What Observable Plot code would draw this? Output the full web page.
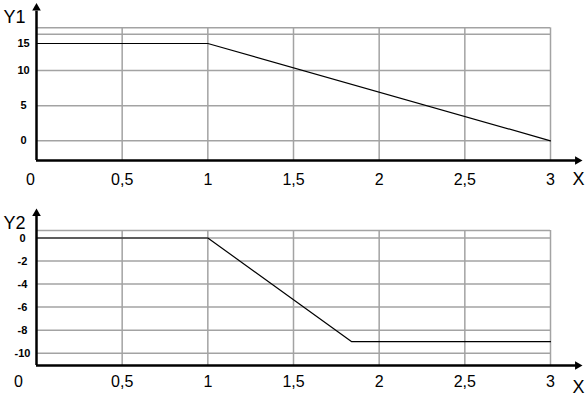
<!DOCTYPE html>
<html><head><meta charset="utf-8">
<script src="https://cdn.jsdelivr.net/npm/d3@7"></script>
<script src="https://cdn.jsdelivr.net/npm/@observablehq/plot@0.6"></script>
<style>body{margin:0;background:#fff} svg{display:block}</style>
</head><body><div id="chart"></div>
<script>
// ---- data ----
const xTicks = [0, 0.5, 1, 1.5, 2, 2.5, 3];
const xTickLabels = ["0", "0,5", "1", "1,5", "2", "2,5", "3"];
const y1Ticks = [0, 5, 10, 15];
const y2Ticks = [0, -2, -4, -6, -8, -10];
const y1Grid = [0, 5, 10, 16.7, 17.9];
const y2Grid = [0.65, 0, -2, -4, -6, -8, -10];
const series1X = [0, 1, 3];
const series1Y = [15, 15, 0];
const series2X = [0, 1, 1.84, 3];
const series2Y = [0, 0, -9, -9];

const data1 = series1X.map((x, i) => ({x, y: series1Y[i]}));
const data2 = series2X.map((x, i) => ({x, y: series2Y[i]}));

const GRID = "#a3a3a3";
const FONT = "'Liberation Sans', Arial, sans-serif";

// the top axis is drawn compressed above 10 (the "15" step is shorter than the others)
const squeezeAbove10 = v => (v <= 10 ? v : 10 + (v - 10) * 0.768);

function panel(o) {
  return Plot.plot({
    width: 585, height: o.h, margin: 0,
    style: {fontFamily: FONT, background: "#fff", color: "#000"},
    x: {domain: [0, 3], range: [36, 550], axis: null},
    y: {domain: o.yDomain, range: o.yRange, axis: null, ...(o.yTransform ? {transform: o.yTransform} : {})},
    marks: [
      Plot.ruleY(o.yGrid, {y: d => d, x1: 0, x2: 3, stroke: GRID, strokeWidth: 1.5}),
      Plot.ruleX(xTicks.slice(1), {x: d => d, y1: o.yBase, y2: o.gridTop, stroke: GRID, strokeWidth: 1.5}),
      Plot.line(o.data, {x: "x", y: "y", stroke: "#000", strokeWidth: 1.2}),
      // axes with arrows
      Plot.ruleY([o.yBase], {y: d => d, x1: 0, x2: 3.15, stroke: "#000", strokeWidth: 2.5}),
      Plot.ruleX([0], {x: d => d, y1: o.yBase, y2: o.yAxisEnd, stroke: "#000", strokeWidth: 2.5}),
      Plot.dot([0], {x: d => d, y: o.yTip, symbol: "triangle", r: 3.2, fill: "#000", stroke: null, dy: 5}),
      Plot.dot([3.187], {x: d => d, y: o.yBase, symbol: "triangle", r: 3.2, fill: "#000", stroke: null, dx: -5, rotate: 90}),
      // y tick labels
      Plot.text(o.yTicks, {x: 0, y: d => d, text: d => String(d), dx: o.tickDx, textAnchor: "middle",
        fontSize: 11, fontWeight: "bold", fill: "#000"}),
      // x tick labels
      Plot.text(xTicks, {filter: d => d !== 0, x: d => d, y: o.yBase, text: (d, i) => xTickLabels[i],
        dy: o.xTickDy, textAnchor: "middle", fontSize: 16, fill: "#000"}),
      Plot.text([xTicks[0]], {x: d => d, y: o.yBase, text: [xTickLabels[0]],
        dx: o.zeroDx, dy: o.xTickDy, textAnchor: "middle", fontSize: 16, fill: "#000"}),
      // axis titles
      Plot.text([o.yLabel], {frameAnchor: "top-left", text: d => d, dx: 3, dy: o.titleDy,
        textAnchor: "start", fontSize: 18, fill: "#000"}),
      Plot.text(["X"], {frameAnchor: "bottom-right", text: d => d, dx: -7, dy: o.xLabelDy,
        textAnchor: "middle", fontSize: 18, fill: "#000"})
    ]
  });
}

const topPanel = panel({
  h: 200,
  yDomain: [-2.8, 10], yRange: [160, 70], yTransform: squeezeAbove10,
  yBase: -2.8, gridTop: 17.9, yTip: 22.5, yAxisEnd: 21.0,
  yGrid: y1Grid, yTicks: y1Ticks, data: data1, yLabel: "Y1",
  tickDx: -13, xTickDy: 19, zeroDx: -6, titleDy: 9.5, xLabelDy: -16
});
const bottomPanel = panel({
  h: 202,
  yDomain: [-11.07, 2.56], yRange: [165, 8],
  yBase: -11.07, gridTop: 0.65, yTip: 2.56, yAxisEnd: 1.9,
  yGrid: y2Grid, yTicks: y2Ticks, data: data2, yLabel: "Y2",
  tickDx: -14, xTickDy: 16.5, zeroDx: -18, titleDy: 15.5, xLabelDy: -9.5
});
document.getElementById("chart").append(topPanel, bottomPanel);
</script>
</body></html>
